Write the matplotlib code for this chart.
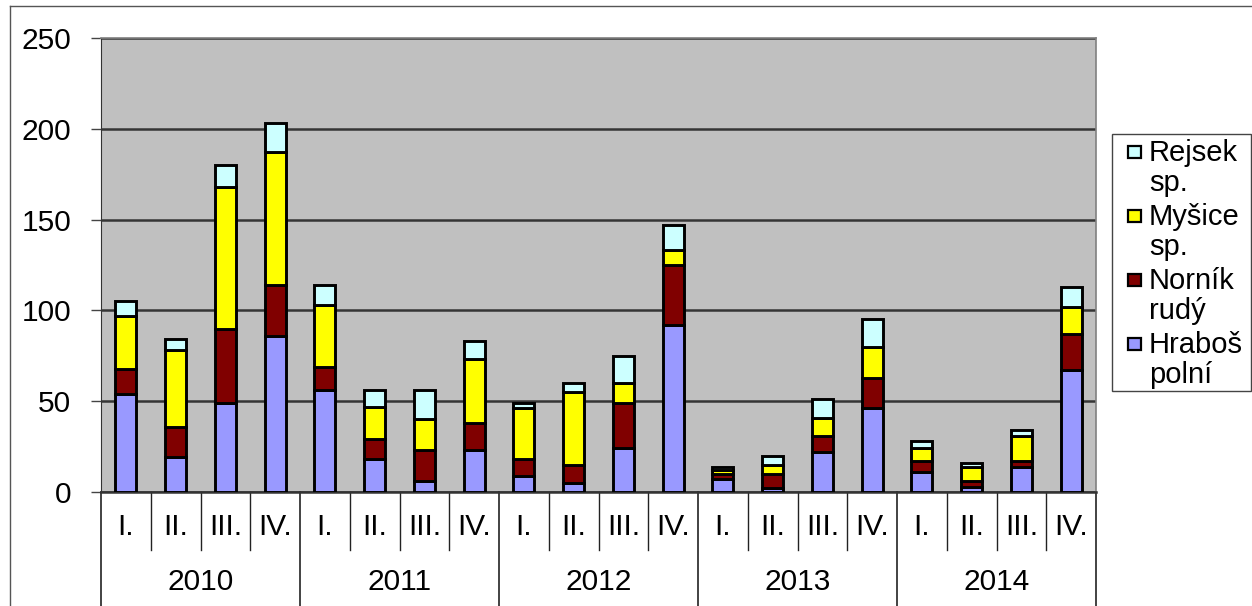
import matplotlib
matplotlib.use("Agg")
import matplotlib.pyplot as plt
from matplotlib.patches import Rectangle
from matplotlib.lines import Line2D
import numpy as np

plt.rcParams['font.family'] = ['Liberation Sans', 'DejaVu Sans']

years = ["2010", "2011", "2012", "2013", "2014"]
quarters = ["I.", "II.", "III.", "IV."]

# segment heights (bottom to top)
hrabos = [54, 19, 49, 86, 56, 18, 6, 23, 9, 5, 24, 92, 7, 2, 22, 46, 11, 3, 14, 67]
hornik = [14, 17, 41, 28, 13, 11, 17, 15, 9, 10, 25, 33, 3, 8, 9, 17, 6, 3, 3, 20]
mysice = [29, 42, 78, 73, 34, 18, 17, 35, 28, 40, 11, 8, 2, 5, 10, 17, 7, 8, 14, 15]
rejsek = [8, 6, 12, 16, 11, 9, 16, 10, 3, 5, 15, 14, 2, 5, 10, 15, 4, 2, 3, 11]

series = [hrabos, hornik, mysice, rejsek]
labels = ["Hraboš\npolní", "Norník\nrudý", "Myšice\nsp.", "Rejsek\nsp."]
colors = ["#9999FF", "#800000", "#FFFF00", "#CCFFFF"]

W, H = 1252, 606
fig = plt.figure(figsize=(W / 100, H / 100), dpi=100)
fig.patch.set_facecolor("white")

def fx(x):
    return x / W

def fy(y):
    return 1 - y / H

ax = fig.add_axes([fx(101), fy(492), fx(1096) - fx(101), fy(38) - fy(492)])
ax.set_facecolor("#C0C0C0")

x = np.arange(len(hrabos))
bottom = np.zeros(len(x))
for vals, col in zip(series, colors):
    ax.bar(x, vals, width=0.42, bottom=bottom, color=col, edgecolor="black",
           linewidth=2.1, zorder=3)
    bottom += np.array(vals)

ax.set_xlim(-0.5, len(x) - 0.5)
ax.set_ylim(0, 250)
ax.set_yticks([0, 50, 100, 150, 200, 250])
ax.yaxis.grid(True, color="#353535", linewidth=1.8, zorder=1)
ax.set_axisbelow(True)
ax.tick_params(axis="y", direction="out", length=7.5, width=1, color="#444444",
               labelsize=21.5, pad=14)
ax.set_xticks([])
for s in ["top", "right"]:
    ax.spines[s].set_color("#808080")
    ax.spines[s].set_linewidth(1.2)
ax.spines["left"].set_color("#333333")
ax.spines["bottom"].set_color("#333333")
ax.spines["bottom"].set_linewidth(1.8)

# category axis: quarters and years
trans = ax.get_xaxis_transform()
for i in range(len(x)):
    ax.text(x[i], -0.077, quarters[i % 4], transform=trans, ha="center",
            va="center", fontsize=21.5)
    if i % 4 != 0:
        ax.plot([i - 0.5, i - 0.5], [0, -0.128], transform=trans, color="#222222",
                linewidth=1, clip_on=False)
for j, yr in enumerate(years):
    ax.text(4 * j + 1.5, -0.198, yr, transform=trans, ha="center", va="center",
            fontsize=21.5)
for j in range(len(years) + 1):
    ax.plot([4 * j - 0.5, 4 * j - 0.5], [0, -0.26], transform=trans, color="#222222",
            linewidth=1.2, clip_on=False)

# legend drawn by hand so the marker sits on the first text line
fig.add_artist(Rectangle((fx(1112), fy(391)), fx(1251) - fx(1112), fy(134) - fy(391),
                         transform=fig.transFigure, facecolor="white",
                         edgecolor="#444444", linewidth=1))
for k, (lab, col) in enumerate(zip(labels[::-1], colors[::-1])):
    top = 143 + k * 64
    fig.add_artist(Rectangle((fx(1128), fy(top + 15)), fx(13), fy(0) - fy(12),
                             transform=fig.transFigure, facecolor=col,
                             edgecolor="black", linewidth=1.6))
    fig.text(fx(1149), fy(top - 4), lab, ha="left", va="top", fontsize=21,
             linespacing=1.1)

# outer frame of the chart
fig.add_artist(Line2D([fx(10), fx(10)], [fy(6), 0], transform=fig.transFigure,
                      color="#555555", linewidth=1))
fig.add_artist(Line2D([fx(10), 1], [fy(6), fy(6)], transform=fig.transFigure,
                      color="#555555", linewidth=1))

fig.savefig("out.png", dpi=100)
